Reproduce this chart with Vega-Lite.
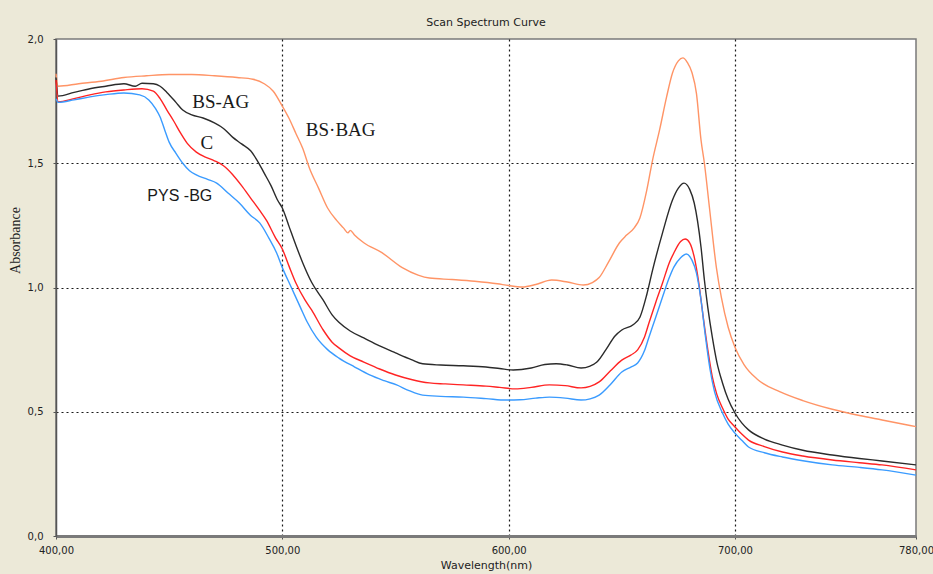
{
  "$schema": "https://vega.github.io/schema/vega-lite/v6.json",
  "width": 860,
  "height": 497,
  "autosize": {"type": "none"},
  "padding": {"left": 56, "top": 39, "right": 17, "bottom": 38},
  "background": "#ECE9D8",
  "config": {
    "view": {"fill": "white", "stroke": "#7a7a7a", "strokeWidth": 1.5},
    "font": "Liberation Sans"
  },
  "title": {
    "text": "Scan Spectrum Curve",
    "fontSize": 11,
    "fontWeight": "normal",
    "font": "DejaVu Sans",
    "color": "#222",
    "offset": 6
  },
  "datasets": {
    "spectra": [
      {"wl":400,"s":"BS-BAG","a":1.86},{"wl":401,"s":"BS-BAG","a":1.81},{"wl":410,"s":"BS-BAG","a":1.82},{"wl":420,"s":"BS-BAG","a":1.83},{"wl":430,"s":"BS-BAG","a":1.845},{"wl":440,"s":"BS-BAG","a":1.852},{"wl":450,"s":"BS-BAG","a":1.857},{"wl":460,"s":"BS-BAG","a":1.857},{"wl":470,"s":"BS-BAG","a":1.852},{"wl":480,"s":"BS-BAG","a":1.845},{"wl":487,"s":"BS-BAG","a":1.838},{"wl":492,"s":"BS-BAG","a":1.82},{"wl":496,"s":"BS-BAG","a":1.79},{"wl":500,"s":"BS-BAG","a":1.73},{"wl":503,"s":"BS-BAG","a":1.68},{"wl":506,"s":"BS-BAG","a":1.62},{"wl":509,"s":"BS-BAG","a":1.56},{"wl":512,"s":"BS-BAG","a":1.48},{"wl":516,"s":"BS-BAG","a":1.4},{"wl":520,"s":"BS-BAG","a":1.32},{"wl":524,"s":"BS-BAG","a":1.27},{"wl":527,"s":"BS-BAG","a":1.24},{"wl":529,"s":"BS-BAG","a":1.22},{"wl":530,"s":"BS-BAG","a":1.23},{"wl":532,"s":"BS-BAG","a":1.21},{"wl":536,"s":"BS-BAG","a":1.18},{"wl":544,"s":"BS-BAG","a":1.14},{"wl":553,"s":"BS-BAG","a":1.08},{"wl":560,"s":"BS-BAG","a":1.05},{"wl":565,"s":"BS-BAG","a":1.038},{"wl":575,"s":"BS-BAG","a":1.032},{"wl":585,"s":"BS-BAG","a":1.025},{"wl":595,"s":"BS-BAG","a":1.015},{"wl":600,"s":"BS-BAG","a":1.008},{"wl":606,"s":"BS-BAG","a":1.002},{"wl":612,"s":"BS-BAG","a":1.012},{"wl":619,"s":"BS-BAG","a":1.03},{"wl":626,"s":"BS-BAG","a":1.022},{"wl":633,"s":"BS-BAG","a":1.01},{"wl":637,"s":"BS-BAG","a":1.02},{"wl":640,"s":"BS-BAG","a":1.04},{"wl":644,"s":"BS-BAG","a":1.1},{"wl":649,"s":"BS-BAG","a":1.18},{"wl":652,"s":"BS-BAG","a":1.21},{"wl":655.5,"s":"BS-BAG","a":1.24},{"wl":658,"s":"BS-BAG","a":1.28},{"wl":661,"s":"BS-BAG","a":1.39},{"wl":663.6,"s":"BS-BAG","a":1.513},{"wl":666.7,"s":"BS-BAG","a":1.634},{"wl":669.8,"s":"BS-BAG","a":1.767},{"wl":672.4,"s":"BS-BAG","a":1.863},{"wl":675,"s":"BS-BAG","a":1.912},{"wl":677,"s":"BS-BAG","a":1.924},{"wl":679,"s":"BS-BAG","a":1.905},{"wl":681,"s":"BS-BAG","a":1.865},{"wl":683,"s":"BS-BAG","a":1.78},{"wl":685,"s":"BS-BAG","a":1.594},{"wl":686.5,"s":"BS-BAG","a":1.5},{"wl":688.7,"s":"BS-BAG","a":1.324},{"wl":691.8,"s":"BS-BAG","a":1.08},{"wl":694,"s":"BS-BAG","a":0.96},{"wl":697,"s":"BS-BAG","a":0.84},{"wl":700,"s":"BS-BAG","a":0.76},{"wl":704,"s":"BS-BAG","a":0.69},{"wl":710,"s":"BS-BAG","a":0.63},{"wl":720,"s":"BS-BAG","a":0.58},{"wl":730,"s":"BS-BAG","a":0.545},{"wl":743,"s":"BS-BAG","a":0.51},{"wl":755,"s":"BS-BAG","a":0.485},{"wl":765,"s":"BS-BAG","a":0.467},{"wl":780,"s":"BS-BAG","a":0.44},

      {"wl":400,"s":"BS-AG","a":1.845},{"wl":401,"s":"BS-AG","a":1.77},{"wl":408,"s":"BS-AG","a":1.785},{"wl":415,"s":"BS-AG","a":1.8},{"wl":422,"s":"BS-AG","a":1.81},{"wl":430,"s":"BS-AG","a":1.82},{"wl":435,"s":"BS-AG","a":1.81},{"wl":438,"s":"BS-AG","a":1.822},{"wl":443,"s":"BS-AG","a":1.82},{"wl":446,"s":"BS-AG","a":1.81},{"wl":449,"s":"BS-AG","a":1.785},{"wl":453,"s":"BS-AG","a":1.745},{"wl":456,"s":"BS-AG","a":1.714},{"wl":460,"s":"BS-AG","a":1.695},{"wl":465,"s":"BS-AG","a":1.682},{"wl":470,"s":"BS-AG","a":1.662},{"wl":474,"s":"BS-AG","a":1.64},{"wl":478,"s":"BS-AG","a":1.605},{"wl":482,"s":"BS-AG","a":1.578},{"wl":486,"s":"BS-AG","a":1.55},{"wl":489,"s":"BS-AG","a":1.51},{"wl":492,"s":"BS-AG","a":1.46},{"wl":495,"s":"BS-AG","a":1.41},{"wl":498,"s":"BS-AG","a":1.35},{"wl":500,"s":"BS-AG","a":1.32},{"wl":503,"s":"BS-AG","a":1.245},{"wl":506,"s":"BS-AG","a":1.17},{"wl":509,"s":"BS-AG","a":1.1},{"wl":513,"s":"BS-AG","a":1.02},{"wl":518,"s":"BS-AG","a":0.95},{"wl":522,"s":"BS-AG","a":0.89},{"wl":525,"s":"BS-AG","a":0.86},{"wl":530,"s":"BS-AG","a":0.825},{"wl":536,"s":"BS-AG","a":0.797},{"wl":543,"s":"BS-AG","a":0.765},{"wl":550,"s":"BS-AG","a":0.737},{"wl":557,"s":"BS-AG","a":0.71},{"wl":562,"s":"BS-AG","a":0.693},{"wl":570,"s":"BS-AG","a":0.688},{"wl":580,"s":"BS-AG","a":0.685},{"wl":590,"s":"BS-AG","a":0.68},{"wl":596,"s":"BS-AG","a":0.674},{"wl":602,"s":"BS-AG","a":0.668},{"wl":610,"s":"BS-AG","a":0.676},{"wl":616,"s":"BS-AG","a":0.69},{"wl":621,"s":"BS-AG","a":0.693},{"wl":626,"s":"BS-AG","a":0.688},{"wl":632,"s":"BS-AG","a":0.676},{"wl":636,"s":"BS-AG","a":0.684},{"wl":639,"s":"BS-AG","a":0.7},{"wl":643,"s":"BS-AG","a":0.75},{"wl":647,"s":"BS-AG","a":0.805},{"wl":650,"s":"BS-AG","a":0.829},{"wl":655,"s":"BS-AG","a":0.85},{"wl":658,"s":"BS-AG","a":0.88},{"wl":661,"s":"BS-AG","a":0.97},{"wl":663.6,"s":"BS-AG","a":1.07},{"wl":668,"s":"BS-AG","a":1.22},{"wl":672.4,"s":"BS-AG","a":1.352},{"wl":675,"s":"BS-AG","a":1.40},{"wl":677.5,"s":"BS-AG","a":1.42},{"wl":680,"s":"BS-AG","a":1.395},{"wl":682,"s":"BS-AG","a":1.34},{"wl":685,"s":"BS-AG","a":1.163},{"wl":686.5,"s":"BS-AG","a":1.03},{"wl":688,"s":"BS-AG","a":0.92},{"wl":690,"s":"BS-AG","a":0.8},{"wl":692,"s":"BS-AG","a":0.7},{"wl":694.5,"s":"BS-AG","a":0.616},{"wl":697,"s":"BS-AG","a":0.55},{"wl":700,"s":"BS-AG","a":0.495},{"wl":703,"s":"BS-AG","a":0.455},{"wl":706,"s":"BS-AG","a":0.427},{"wl":713,"s":"BS-AG","a":0.39},{"wl":721,"s":"BS-AG","a":0.366},{"wl":730,"s":"BS-AG","a":0.345},{"wl":743,"s":"BS-AG","a":0.326},{"wl":755,"s":"BS-AG","a":0.312},{"wl":765,"s":"BS-AG","a":0.302},{"wl":780,"s":"BS-AG","a":0.286},

      {"wl":400,"s":"C","a":1.835},{"wl":401,"s":"C","a":1.747},{"wl":408,"s":"C","a":1.76},{"wl":415,"s":"C","a":1.775},{"wl":422,"s":"C","a":1.787},{"wl":430,"s":"C","a":1.795},{"wl":438,"s":"C","a":1.8},{"wl":443,"s":"C","a":1.79},{"wl":446,"s":"C","a":1.76},{"wl":449,"s":"C","a":1.714},{"wl":452,"s":"C","a":1.67},{"wl":455,"s":"C","a":1.622},{"wl":458,"s":"C","a":1.58},{"wl":462,"s":"C","a":1.545},{"wl":466,"s":"C","a":1.525},{"wl":470,"s":"C","a":1.51},{"wl":474,"s":"C","a":1.49},{"wl":478,"s":"C","a":1.455},{"wl":482,"s":"C","a":1.41},{"wl":486,"s":"C","a":1.36},{"wl":490,"s":"C","a":1.31},{"wl":493,"s":"C","a":1.27},{"wl":497,"s":"C","a":1.2},{"wl":500,"s":"C","a":1.155},{"wl":503,"s":"C","a":1.085},{"wl":506,"s":"C","a":1.018},{"wl":510,"s":"C","a":0.95},{"wl":513,"s":"C","a":0.909},{"wl":518,"s":"C","a":0.83},{"wl":522,"s":"C","a":0.78},{"wl":525,"s":"C","a":0.757},{"wl":530,"s":"C","a":0.725},{"wl":536,"s":"C","a":0.7},{"wl":543,"s":"C","a":0.672},{"wl":550,"s":"C","a":0.648},{"wl":557,"s":"C","a":0.63},{"wl":565,"s":"C","a":0.616},{"wl":572,"s":"C","a":0.612},{"wl":580,"s":"C","a":0.608},{"wl":590,"s":"C","a":0.603},{"wl":596,"s":"C","a":0.598},{"wl":603,"s":"C","a":0.592},{"wl":610,"s":"C","a":0.598},{"wl":618,"s":"C","a":0.608},{"wl":625,"s":"C","a":0.605},{"wl":632,"s":"C","a":0.596},{"wl":636,"s":"C","a":0.602},{"wl":640,"s":"C","a":0.62},{"wl":645,"s":"C","a":0.665},{"wl":650,"s":"C","a":0.708},{"wl":654,"s":"C","a":0.728},{"wl":657,"s":"C","a":0.749},{"wl":660,"s":"C","a":0.8},{"wl":662,"s":"C","a":0.857},{"wl":665,"s":"C","a":0.94},{"wl":668,"s":"C","a":1.018},{"wl":671,"s":"C","a":1.1},{"wl":673,"s":"C","a":1.139},{"wl":676,"s":"C","a":1.185},{"wl":678,"s":"C","a":1.195},{"wl":680,"s":"C","a":1.18},{"wl":682,"s":"C","a":1.123},{"wl":684,"s":"C","a":1.02},{"wl":686,"s":"C","a":0.88},{"wl":688,"s":"C","a":0.75},{"wl":690,"s":"C","a":0.64},{"wl":692,"s":"C","a":0.57},{"wl":694.5,"s":"C","a":0.515},{"wl":697,"s":"C","a":0.47},{"wl":700,"s":"C","a":0.439},{"wl":703,"s":"C","a":0.41},{"wl":706,"s":"C","a":0.386},{"wl":713,"s":"C","a":0.36},{"wl":721,"s":"C","a":0.338},{"wl":730,"s":"C","a":0.322},{"wl":743,"s":"C","a":0.306},{"wl":755,"s":"C","a":0.295},{"wl":765,"s":"C","a":0.286},{"wl":780,"s":"C","a":0.266},

      {"wl":400,"s":"PYS-BG","a":1.76},{"wl":401,"s":"PYS-BG","a":1.745},{"wl":408,"s":"PYS-BG","a":1.755},{"wl":415,"s":"PYS-BG","a":1.767},{"wl":422,"s":"PYS-BG","a":1.776},{"wl":430,"s":"PYS-BG","a":1.783},{"wl":437,"s":"PYS-BG","a":1.775},{"wl":441,"s":"PYS-BG","a":1.755},{"wl":444,"s":"PYS-BG","a":1.72},{"wl":446,"s":"PYS-BG","a":1.686},{"wl":448,"s":"PYS-BG","a":1.635},{"wl":450,"s":"PYS-BG","a":1.585},{"wl":453,"s":"PYS-BG","a":1.54},{"wl":456,"s":"PYS-BG","a":1.5},{"wl":459,"s":"PYS-BG","a":1.47},{"wl":462,"s":"PYS-BG","a":1.453},{"wl":467,"s":"PYS-BG","a":1.435},{"wl":471,"s":"PYS-BG","a":1.42},{"wl":476,"s":"PYS-BG","a":1.38},{"wl":481,"s":"PYS-BG","a":1.34},{"wl":486,"s":"PYS-BG","a":1.29},{"wl":490,"s":"PYS-BG","a":1.26},{"wl":494,"s":"PYS-BG","a":1.2},{"wl":497.5,"s":"PYS-BG","a":1.139},{"wl":500,"s":"PYS-BG","a":1.08},{"wl":504,"s":"PYS-BG","a":1.0},{"wl":508,"s":"PYS-BG","a":0.92},{"wl":511,"s":"PYS-BG","a":0.861},{"wl":515,"s":"PYS-BG","a":0.8},{"wl":520,"s":"PYS-BG","a":0.75},{"wl":525,"s":"PYS-BG","a":0.716},{"wl":532,"s":"PYS-BG","a":0.68},{"wl":538.6,"s":"PYS-BG","a":0.648},{"wl":545,"s":"PYS-BG","a":0.625},{"wl":550.5,"s":"PYS-BG","a":0.608},{"wl":556,"s":"PYS-BG","a":0.585},{"wl":562,"s":"PYS-BG","a":0.567},{"wl":570,"s":"PYS-BG","a":0.562},{"wl":580,"s":"PYS-BG","a":0.559},{"wl":590,"s":"PYS-BG","a":0.553},{"wl":599,"s":"PYS-BG","a":0.547},{"wl":605,"s":"PYS-BG","a":0.548},{"wl":612,"s":"PYS-BG","a":0.555},{"wl":618,"s":"PYS-BG","a":0.559},{"wl":625,"s":"PYS-BG","a":0.555},{"wl":632,"s":"PYS-BG","a":0.547},{"wl":636,"s":"PYS-BG","a":0.552},{"wl":640,"s":"PYS-BG","a":0.567},{"wl":645,"s":"PYS-BG","a":0.61},{"wl":650,"s":"PYS-BG","a":0.66},{"wl":654,"s":"PYS-BG","a":0.68},{"wl":657,"s":"PYS-BG","a":0.696},{"wl":660,"s":"PYS-BG","a":0.745},{"wl":662,"s":"PYS-BG","a":0.8},{"wl":665,"s":"PYS-BG","a":0.88},{"wl":668,"s":"PYS-BG","a":0.962},{"wl":671,"s":"PYS-BG","a":1.04},{"wl":673,"s":"PYS-BG","a":1.082},{"wl":676,"s":"PYS-BG","a":1.12},{"wl":678.5,"s":"PYS-BG","a":1.135},{"wl":681,"s":"PYS-BG","a":1.11},{"wl":683,"s":"PYS-BG","a":1.058},{"wl":685,"s":"PYS-BG","a":0.95},{"wl":687,"s":"PYS-BG","a":0.8},{"wl":689,"s":"PYS-BG","a":0.67},{"wl":691,"s":"PYS-BG","a":0.58},{"wl":694.5,"s":"PYS-BG","a":0.495},{"wl":697,"s":"PYS-BG","a":0.45},{"wl":700,"s":"PYS-BG","a":0.414},{"wl":703,"s":"PYS-BG","a":0.385},{"wl":706,"s":"PYS-BG","a":0.358},{"wl":713,"s":"PYS-BG","a":0.335},{"wl":721,"s":"PYS-BG","a":0.318},{"wl":730,"s":"PYS-BG","a":0.303},{"wl":743,"s":"PYS-BG","a":0.286},{"wl":755,"s":"PYS-BG","a":0.276},{"wl":765,"s":"PYS-BG","a":0.266},{"wl":780,"s":"PYS-BG","a":0.245}
    ],
    "labels": [
      {"wl":472.8,"a":1.746,"t":"BS-AG","f":"serif"},
      {"wl":525.8,"a":1.634,"t":"BS·BAG","f":"serif"},
      {"wl":466.7,"a":1.581,"t":"C","f":"serif"},
      {"wl":454.7,"a":1.368,"t":"PYS -BG","f":"sans"}
    ]
  },
  "layer": [
    {
      "data": {"name": "spectra"},
      "mark": {"type": "line", "strokeWidth": 1.4, "interpolate": "monotone"},
      "encoding": {
        "x": {
          "field": "wl", "type": "quantitative",
          "scale": {"domain": [400, 780], "nice": false, "zero": false},
          "axis": {
            "values": [400, 500, 600, 700, 780],
            "format": ".2f",
            "labelExpr": "replace(datum.label, '.', ',')",
            "title": "Wavelength(nm)",
            "titleFont": "DejaVu Sans", "titleFontSize": 11, "titleFontWeight": "normal", "titleColor": "#222",
            "titlePadding": 4,
            "labelFont": "DejaVu Sans", "labelFontSize": 10, "labelColor": "#222",
            "labelPadding": 6,
            "labelFlush": false,
            "labelOverlap": false,
            "tickSize": 3, "tickColor": "#555",
            "domainColor": "#7a7a7a", "domainWidth": 3,
            "grid": true, "gridColor": "#000", "gridDash": [2, 3], "gridWidth": 1.2,
            "gridOpacity": {"condition": {"test": "datum.value == 400 || datum.value == 780", "value": 0}, "value": 0.9}
          }
        },
        "y": {
          "field": "a", "type": "quantitative",
          "scale": {"domain": [0, 2], "nice": false},
          "axis": {
            "values": [0, 0.5, 1, 1.5, 2],
            "format": ".1f",
            "labelExpr": "replace(datum.label, '.', ',')",
            "title": "Absorbance",
            "titleFont": "Liberation Serif", "titleFontSize": 14, "titleFontWeight": "normal", "titleColor": "#222",
            "titleX": -41, "titleY": 201, "titleAngle": 270, "titleBaseline": "middle", "titleAlign": "center",
            "labelFont": "DejaVu Sans", "labelFontSize": 10, "labelColor": "#222",
            "labelPadding": 10,
            "labelFlush": false,
            "tickSize": 3, "tickColor": "#555",
            "domainColor": "#555", "domainWidth": 1.5,
            "grid": true, "gridColor": "#000", "gridDash": [2, 3], "gridWidth": 1.2,
            "gridOpacity": {"condition": {"test": "datum.value == 0 || datum.value == 2", "value": 0}, "value": 0.9}
          }
        },
        "color": {
          "field": "s", "type": "nominal",
          "scale": {"domain": ["BS-BAG", "BS-AG", "C", "PYS-BG"], "range": ["#ff9466", "#2b2b2b", "#ff2424", "#3a9bff"]},
          "legend": null
        }
      }
    },
    {
      "data": {"name": "labels"},
      "transform": [{"filter": "datum.f == 'serif'"}],
      "mark": {"type": "text", "font": "Liberation Serif", "fontSize": 19, "color": "#1a1a1a", "align": "center", "baseline": "middle"},
      "encoding": {
        "x": {"field": "wl", "type": "quantitative"},
        "y": {"field": "a", "type": "quantitative"},
        "text": {"field": "t"}
      }
    },
    {
      "data": {"name": "labels"},
      "transform": [{"filter": "datum.f == 'sans'"}],
      "mark": {"type": "text", "font": "Liberation Sans", "fontSize": 16, "color": "#1a1a1a", "align": "center", "baseline": "middle"},
      "encoding": {
        "x": {"field": "wl", "type": "quantitative"},
        "y": {"field": "a", "type": "quantitative"},
        "text": {"field": "t"}
      }
    }
  ]
}
